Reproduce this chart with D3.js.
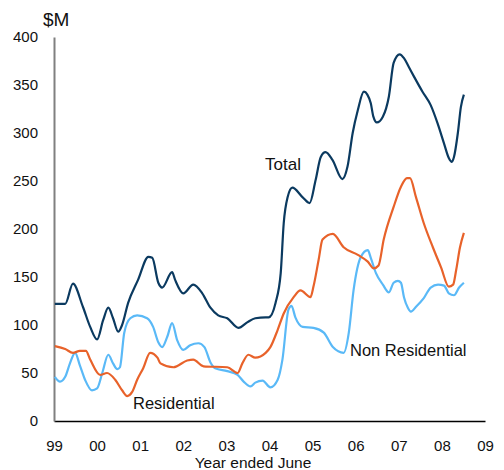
<!DOCTYPE html>
<html>
<head>
<meta charset="utf-8">
<script src="https://cdn.jsdelivr.net/npm/d3@7"></script>
<style>
  body { margin: 0; background: #fff; }
  svg text { font-family: "Liberation Sans", Arial, sans-serif; fill: #111; }
</style>
</head>
<body>
<div id="chart"></div>
<script>
// x values are years after the "99" tick (1 = one year)
const totalT = [0.02, 0.26, 0.44, 0.67, 0.84, 1.0, 1.14, 1.26, 1.37, 1.49, 1.58, 1.72, 1.95, 2.19, 2.28, 2.42, 2.51, 2.74, 2.81, 3.0, 3.23, 3.44, 3.63, 3.81, 4.02, 4.28, 4.49, 4.67, 4.91, 4.98, 5.14, 5.26, 5.33, 5.42, 5.53, 5.77, 5.93, 6.07, 6.19, 6.30, 6.46, 6.69, 6.81, 6.93, 7.05, 7.19, 7.27, 7.35, 7.41, 7.49, 7.63, 7.77, 7.88, 8.02, 8.12, 8.23, 8.35, 8.55, 8.74, 8.90, 9.05, 9.16, 9.23, 9.28, 9.37, 9.44, 9.51];
const totalV = [122, 122, 143, 119, 98, 85, 105, 118, 107, 93, 100, 123, 147, 171, 170, 144, 139, 155, 147, 133, 142, 133, 118, 110, 107, 97, 103, 107, 108, 108, 123, 154, 206, 233, 243, 233, 227, 251, 275, 280, 272, 252, 265, 300, 324, 343, 340, 331, 317, 311, 317, 338, 373, 382, 378, 369, 359, 343, 329, 310, 289, 274, 270, 275, 300, 327, 340];

const resT = [0.02, 0.26, 0.44, 0.6, 0.74, 0.84, 1.07, 1.23, 1.42, 1.58, 1.7, 1.81, 1.93, 2.07, 2.23, 2.4, 2.47, 2.77, 3.09, 3.23, 3.47, 4.02, 4.26, 4.37, 4.51, 4.67, 4.91, 5.02, 5.19, 5.33, 5.56, 5.72, 5.95, 6.02, 6.14, 6.23, 6.47, 6.72, 7.05, 7.28, 7.42, 7.53, 7.65, 7.88, 8.05, 8.19, 8.26, 8.4, 8.58, 8.79, 8.98, 9.16, 9.26, 9.33, 9.42, 9.51];
const resV = [78, 75, 71, 73, 73, 64, 48, 50, 43, 32, 26, 30, 43, 55, 71, 66, 60, 56, 63, 64, 57, 56, 50, 60, 69, 66, 71, 77, 95, 112, 129, 136, 129, 140, 168, 189, 195, 181, 173, 166, 159, 162, 189, 223, 244, 253, 253, 233, 206, 181, 160, 140, 142, 157, 181, 196];

const nonResT = [0.02, 0.14, 0.26, 0.37, 0.49, 0.6, 0.72, 0.88, 1.0, 1.12, 1.26, 1.37, 1.47, 1.53, 1.63, 1.77, 1.93, 2.16, 2.30, 2.42, 2.51, 2.63, 2.74, 2.86, 3.0, 3.16, 3.35, 3.49, 3.63, 3.74, 4.02, 4.26, 4.4, 4.56, 4.67, 4.84, 5.02, 5.19, 5.3, 5.44, 5.51, 5.6, 5.77, 6.02, 6.26, 6.47, 6.72, 6.84, 6.95, 7.12, 7.28, 7.35, 7.47, 7.63, 7.77, 7.88, 7.98, 8.05, 8.12, 8.21, 8.28, 8.40, 8.58, 8.74, 8.91, 9.05, 9.16, 9.28, 9.4, 9.51];
const nonResV = [46, 41, 46, 60, 71, 58, 43, 32, 34, 50, 69, 60, 54, 56, 92, 107, 110, 107, 98, 82, 77, 88, 102, 84, 74, 79, 81, 77, 61, 55, 52, 48, 41, 36, 40, 42, 35, 43, 64, 116, 120, 108, 98, 97, 92, 77, 71, 92, 136, 171, 178, 170, 154, 142, 134, 144, 146, 144, 129, 118, 114, 119, 128, 139, 142, 141, 133, 131, 139, 144];

const yTicks = [0, 50, 100, 150, 200, 250, 300, 350, 400];
const xTicks = [0, 1, 2, 3, 4, 5, 6, 7, 8, 9, 10];
const xTickLabels = ["99", "00", "01", "02", "03", "04", "05", "06", "07", "08", "09"];

const W = 504, H = 470;
const margin = {top: 37, right: 19, bottom: 49, left: 54};

const svg = d3.select("#chart")
  .append("svg")
  .attr("width", W)
  .attr("height", H);

const x = d3.scaleLinear()
  .domain([0, 10])
  .range([margin.left, W - margin.right]);

const y = d3.scaleLinear()
  .domain([0, 400])
  .range([H - margin.bottom, margin.top]);

// Y axis: grey line, labels only
const yAxis = d3.axisLeft(y)
  .tickValues(yTicks)
  .tickSize(0)
  .tickPadding(16);
const gy = svg.append("g")
  .attr("transform", "translate(" + margin.left + ",0)")
  .call(yAxis);
gy.select(".domain").attr("stroke", "#808080").attr("stroke-width", 2);
gy.selectAll("text").style("font-size", "15px").attr("fill", "#111");

// X axis: black line, labels below
const xAxis = d3.axisBottom(x)
  .tickValues(xTicks)
  .tickSize(0)
  .tickPadding(19)
  .tickFormat((d, i) => xTickLabels[i]);
const gx = svg.append("g")
  .attr("transform", "translate(0," + (H - margin.bottom) + ")")
  .call(xAxis);
gx.select(".domain").attr("stroke", "#000").attr("stroke-width", 1.5);
gx.selectAll("text").style("font-size", "15px").attr("fill", "#111");

gy.raise();

const series = [
  {t: nonResT, v: nonResV, color: "#5ab9f7"},
  {t: resT, v: resV, color: "#e8622a"},
  {t: totalT, v: totalV, color: "#0b3a60"}
];

const line = d3.line()
  .x(d => x(d[0]))
  .y(d => y(d[1]))
  .curve(d3.curveMonotoneX);

series.forEach(s => {
  svg.append("path")
    .datum(d3.zip(s.t, s.v))
    .attr("fill", "none")
    .attr("stroke", s.color)
    .attr("stroke-width", 2.2)
    .attr("stroke-linejoin", "round")
    .attr("d", line);
});

// labels
svg.append("text").attr("x", 43).attr("y", 26).style("font-size", "19px").text("$M");
svg.append("text").attr("x", 265).attr("y", 170).style("font-size", "17px").text("Total");
svg.append("text").attr("x", 133).attr("y", 409).style("font-size", "16.5px").text("Residential");
svg.append("text").attr("x", 350).attr("y", 356).style("font-size", "16.5px").text("Non Residential");
svg.append("text").attr("x", 253).attr("y", 468).attr("text-anchor", "middle")
  .style("font-size", "15.5px").text("Year ended June");
</script>
</body>
</html>
